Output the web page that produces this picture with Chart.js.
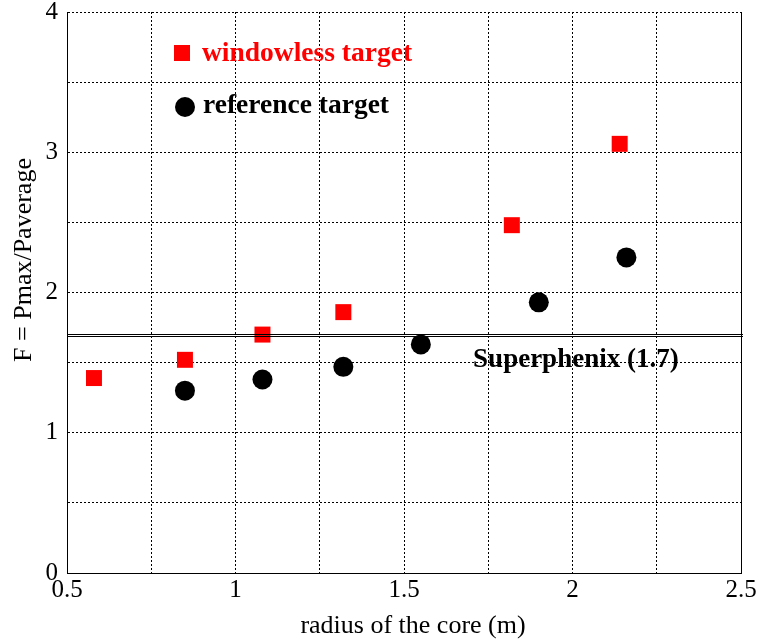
<!DOCTYPE html>
<html>
<head>
<meta charset="utf-8">
<script src="https://cdn.jsdelivr.net/npm/chart.js@4.4.0/dist/chart.umd.min.js"></script>
<style>
  html, body { margin: 0; padding: 0; background: #fff; }
  #wrap { width: 765px; height: 643px; }
</style>
</head>
<body>
<div id="wrap"><canvas id="chart" width="765" height="643"></canvas></div>
<script>
// radius of the core (m) vs F = Pmax/Paverage
const windowlessX = [0.58, 0.85, 1.08, 1.32, 1.82, 2.14];
const windowlessY = [1.39, 1.52, 1.70, 1.86, 2.48, 3.06];
const referenceX = [0.85, 1.08, 1.32, 1.55, 1.90, 2.16];
const referenceY = [1.30, 1.38, 1.47, 1.63, 1.93, 2.25];
const superphenixValue = 1.7;
const superphenixLabel = 'Superphenix (1.7)';
const xTicks = [0.5, 1, 1.5, 2, 2.5];
const yTicks = [0, 1, 2, 3, 4];
const xTitle = 'radius of the core (m)';
const yTitle = 'F = Pmax/Paverage';

const serif = '"Liberation Serif", "Times New Roman", serif';

// Superphenix reference line, in-plot legend, axis titles and frame
const overlayPlugin = {
  id: 'overlay',
  afterDatasetsDraw(chart) {
    const { ctx, chartArea: a, scales } = chart;
    const yLine = Math.round(scales.y.getPixelForValue(superphenixValue));
    ctx.save();
    ctx.strokeStyle = '#000';
    ctx.lineWidth = 1;
    [-1, 1].forEach(d => {
      ctx.beginPath();
      ctx.moveTo(a.left, yLine + d + 0.5);
      ctx.lineTo(a.right + 2, yLine + d + 0.5);
      ctx.stroke();
    });
    // right frame edge
    ctx.beginPath();
    ctx.moveTo(a.right + 0.5, a.top);
    ctx.lineTo(a.right + 0.5, a.bottom);
    ctx.stroke();

    ctx.font = 'bold 27px ' + serif;
    ctx.textBaseline = 'middle';
    ctx.textAlign = 'center';
    ctx.fillStyle = '#000';
    ctx.fillText(superphenixLabel, scales.x.getPixelForValue(2.01), scales.y.getPixelForValue(1.52));

    // legend
    ctx.font = 'bold 27.5px ' + serif;
    ctx.textAlign = 'left';
    const ds = chart.data.datasets;
    ctx.fillStyle = ds[0].backgroundColor;
    ctx.fillRect(a.left + 107, a.top + 33, 16, 16);
    ctx.fillText(ds[0].label, a.left + 135, a.top + 42);
    ctx.fillStyle = ds[1].backgroundColor;
    ctx.beginPath();
    ctx.arc(a.left + 118, a.top + 95, 10, 0, Math.PI * 2);
    ctx.fill();
    ctx.fillText(ds[1].label, a.left + 136, a.top + 94);

    // axis titles
    ctx.font = '26px ' + serif;
    ctx.textAlign = 'center';
    ctx.fillText(xTitle, 413, 626);
    ctx.translate(24, 260);
    ctx.rotate(-Math.PI / 2);
    ctx.fillText(yTitle, 0, 0);
    ctx.restore();
  }
};

const ctx = document.getElementById('chart');
new Chart(ctx, {
  type: 'scatter',
  data: {
    datasets: [
      {
        label: 'windowless target',
        data: windowlessX.map((x, i) => ({ x, y: windowlessY[i] })),
        backgroundColor: '#ff0000',
        borderWidth: 0,
        pointStyle: 'rect',
        pointRadius: 11.3
      },
      {
        label: 'reference target',
        data: referenceX.map((x, i) => ({ x, y: referenceY[i] })),
        backgroundColor: '#000000',
        borderWidth: 0,
        pointStyle: 'circle',
        pointRadius: 10
      }
    ]
  },
  options: {
    responsive: false,
    animation: false,
    devicePixelRatio: 1,
    layout: { padding: { top: 12, right: 24, left: 0, bottom: 0 } },
    plugins: {
      legend: { display: false },
      tooltip: { enabled: false }
    },
    scales: {
      x: {
        type: 'linear',
        min: 0.5,
        max: 2.5,
        afterFit: s => { s.height = 70; s.paddingLeft = 0; s.paddingRight = 0; },
        ticks: {
          stepSize: 0.25,
          autoSkip: false,
          maxRotation: 0,
          padding: 2,
          color: '#000',
          font: { family: serif, size: 25 },
          callback: v => xTicks.includes(v) ? String(v) : ''
        },
        grid: { color: '#000', lineWidth: 1, drawTicks: false },
        border: { display: true, color: '#000', width: 1, dash: [2, 2] }
      },
      y: {
        type: 'linear',
        min: 0,
        max: 4,
        afterFit: s => { s.width = 67; s.paddingTop = 0; s.paddingBottom = 0; },
        ticks: {
          stepSize: 0.5,
          autoSkip: false,
          padding: 9,
          color: '#000',
          font: { family: serif, size: 25 },
          callback: v => yTicks.includes(v) ? String(v) : ''
        },
        grid: { color: '#000', lineWidth: 1, drawTicks: false },
        border: { display: true, color: '#000', width: 1, dash: [2, 2] }
      }
    }
  },
  plugins: [overlayPlugin]
});
</script>
</body>
</html>
